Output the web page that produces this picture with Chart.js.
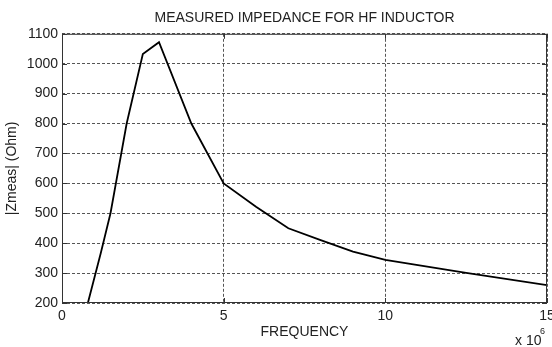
<!DOCTYPE html>
<html>
<head>
<meta charset="utf-8">
<script src="https://cdn.jsdelivr.net/npm/chart.js@4"></script>
<style>
  html, body { margin: 0; padding: 0; background: #fff; }
  #wrap { width: 552px; height: 347px; }
</style>
</head>
<body>
<div id="wrap"><canvas id="chart" width="552" height="347"></canvas></div>
<script>
// frequency in units of 1e6 Hz, impedance in Ohm
const freqMHz = [0.8, 1.2, 1.5, 2.0, 2.5, 3.0, 4.0, 5.0, 6.0, 7.0, 8.0, 9.0, 10.0, 12.5, 15.0];
const zMeas = [200, 367, 500, 800, 1032, 1072, 800, 600, 522, 450, 410, 372, 344, 301, 260];
const chartTitle = 'MEASURED IMPEDANCE FOR HF INDUCTOR';
const xTitle = 'FREQUENCY';
const yTitle = '|Zmeas| (Ohm)';

const fontFamily = '"Liberation Sans", Arial, sans-serif';
const textColor = '#222';
const gridColor = '#555';

// MATLAB-like frame: box around the axes, inward tick marks, exponent label
const boxAndExponent = {
  id: 'boxAndExponent',
  afterDraw(chart) {
    const { ctx, chartArea, scales } = chart;
    const { left, right, top, bottom } = chartArea;
    ctx.save();
    ctx.strokeStyle = '#333';
    ctx.lineWidth = 1;
    ctx.strokeRect(left + 0.5, top + 0.5, right - left - 1, bottom - top - 1);
    ctx.beginPath();
    scales.y.ticks.forEach((t) => {
      const py = Math.round(scales.y.getPixelForValue(t.value)) + 0.5;
      ctx.moveTo(left, py); ctx.lineTo(left + 5, py);
      ctx.moveTo(right, py); ctx.lineTo(right - 5, py);
    });
    scales.x.ticks.forEach((t) => {
      const px = Math.round(scales.x.getPixelForValue(t.value)) + 0.5;
      ctx.moveTo(px, bottom); ctx.lineTo(px, bottom - 5);
      ctx.moveTo(px, top); ctx.lineTo(px, top + 5);
    });
    ctx.stroke();
    ctx.fillStyle = textColor;
    ctx.textBaseline = 'alphabetic';
    ctx.textAlign = 'left';
    ctx.font = `14px ${fontFamily}`;
    ctx.fillText('x 10', 515, 345);
    ctx.font = `9px ${fontFamily}`;
    ctx.fillText('6', 540, 334);
    ctx.restore();
  },
};

const ctx = document.getElementById('chart').getContext('2d');
new Chart(ctx, {
  type: 'line',
  data: {
    datasets: [{
      data: freqMHz.map((f, i) => ({ x: f, y: zMeas[i] })),
      borderColor: '#000',
      borderWidth: 1.8,
      pointRadius: 0,
      tension: 0,
      fill: false,
    }],
  },
  options: {
    responsive: false,
    animation: false,
    layout: { padding: { left: 0, right: 5, top: 0, bottom: 0 } },
    plugins: {
      legend: { display: false },
      tooltip: { enabled: false },
      title: {
        display: true,
        text: chartTitle,
        fullSize: false,
        color: textColor,
        font: { family: fontFamily, size: 14, weight: 'normal' },
        padding: { top: 10, bottom: 7 },
      },
    },
    scales: {
      x: {
        type: 'linear',
        min: 0,
        max: 15,
        ticks: {
          stepSize: 5,
          color: textColor,
          padding: 5,
          maxRotation: 0,
          font: { family: fontFamily, size: 14 },
          callback(value) { return String(value); },
        },
        grid: {
          color: gridColor,
          drawTicks: false,
        },
        border: { display: false, dash: [3, 2] },
        title: {
          display: true,
          text: xTitle,
          color: textColor,
          font: { family: fontFamily, size: 14 },
          padding: { top: 2, bottom: 6 },
        },
        afterFit(scale) {
          scale.height = 44;
          scale.paddingRight = 0;
        },
      },
      y: {
        min: 200,
        max: 1100,
        ticks: {
          stepSize: 100,
          color: textColor,
          padding: 4,
          font: { family: fontFamily, size: 14 },
          callback(value) { return String(value); },
        },
        grid: {
          color: gridColor,
          drawTicks: false,
        },
        border: { display: false, dash: [3, 2] },
        title: {
          display: true,
          text: yTitle,
          color: textColor,
          font: { family: fontFamily, size: 14 },
          padding: { top: 4, bottom: 4 },
        },
        afterFit(scale) { scale.width = 62; },
      },
    },
  },
  plugins: [boxAndExponent],
});
</script>
</body>
</html>
